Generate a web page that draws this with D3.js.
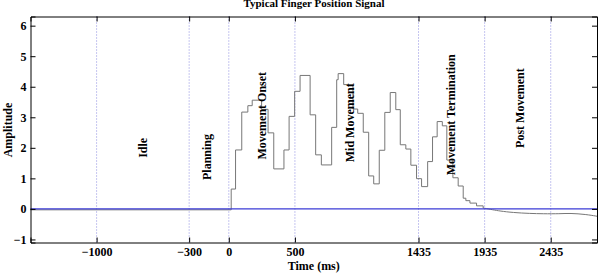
<!DOCTYPE html>
<html>
<head>
<meta charset="utf-8">
<script src="https://cdn.jsdelivr.net/npm/d3@7.9.0/dist/d3.min.js"></script>
<style>
  body { margin: 0; background: #fff; }
  svg text { font-family: "Liberation Serif", "Times New Roman", serif; font-weight: bold; fill: #000; }
</style>
</head>
<body>
<div id="chart"></div>
<script>
const xTicks = [-1000, -300, 0, 500, 1435, 1935, 2435];
const yTicks = [-1, 0, 1, 2, 3, 4, 5, 6];

const phaseNames = ['Idle', 'Planning', 'Movement Onset', 'Mid Movement', 'Movement Termination', 'Post Movement'];
const phaseTimes = [-654, -169, 248, 918, 1680, 2202];
const phaseLevels = [2.0, 1.7, 3.05, 2.82, 3.08, 3.3];

// finger signal, sampled steps (ms, amplitude)
const stepTimes = [-1500, 18, 51, 98, 144, 177, 248, 297, 340, 417, 456, 498, 539, 615, 657, 700,
  778, 816, 827, 869, 939, 975, 1017, 1058, 1096, 1138, 1180, 1221, 1263, 1297, 1339, 1377,
  1420, 1458, 1504, 1541, 1576, 1615, 1649, 1695, 1735, 1773, 1793, 1824, 1874, 1924];
const stepValues = [-0.03, 0.65, 1.93, 3.17, 3.38, 3.56, 3.26, 2.49, 1.31, 1.93, 3.03, 3.85, 4.37, 3.08, 1.77, 1.44,
  2.67, 4.23, 4.43, 4.07, 3.27, 3.13, 2.51, 1.08, 0.82, 1.92, 3.16, 3.81, 3.25, 2.10, 1.96, 1.43,
  0.99, 0.73, 1.55, 2.36, 2.86, 2.72, 1.60, 1.02, 0.75, 0.35, 0.27, 0.19, 0.10, 0.03];
// slow drift after movement
const tailTimes = [1924, 1998, 2051, 2149, 2278, 2377, 2505, 2581, 2702, 2785];
const tailValues = [0.03, -0.03, -0.07, -0.12, -0.15, -0.16, -0.16, -0.14, -0.18, -0.24];

const width = 602;
const height = 273;
const margin = { top: 16.5, right: 5, bottom: 30.5, left: 30.5 };

const svg = d3.select('#chart')
  .append('svg')
  .attr('width', width)
  .attr('height', height);

const x = d3.scaleLinear()
  .domain([-1500, 2785])
  .range([margin.left, width - margin.right]);

const y = d3.scaleLinear()
  .domain([-1.1, 6.3])
  .range([height - margin.bottom, margin.top]);

// dotted phase boundaries
svg.append('g')
  .selectAll('line')
  .data(xTicks)
  .join('line')
  .attr('x1', d => x(d))
  .attr('x2', d => x(d))
  .attr('y1', margin.top)
  .attr('y2', height - margin.bottom)
  .attr('stroke', '#8c8ce0')
  .attr('stroke-width', 1)
  .attr('stroke-dasharray', '1,2');

const stepData = stepTimes.map((t, i) => [t, stepValues[i]]);
const tailData = tailTimes.map((t, i) => [t, tailValues[i]]);

svg.append('path')
  .datum(stepData)
  .attr('fill', 'none')
  .attr('stroke', '#777')
  .attr('stroke-width', 1)
  .attr('d', d3.line().x(d => x(d[0])).y(d => y(d[1])).curve(d3.curveStepAfter));

svg.append('path')
  .datum(tailData)
  .attr('fill', 'none')
  .attr('stroke', '#777')
  .attr('stroke-width', 1)
  .attr('d', d3.line().x(d => x(d[0])).y(d => y(d[1])).curve(d3.curveBasis));

// zero reference
svg.append('line')
  .attr('x1', x(-1500))
  .attr('x2', x(2785))
  .attr('y1', y(0))
  .attr('y2', y(0))
  .attr('stroke', '#3b3bd6')
  .attr('stroke-width', 1.3);

// axes, matlab style box with inward ticks
const tickLen = 5;
const fmt = d => d < 0 ? '\u2212' + Math.abs(d) : String(d);

const xAxis = svg.append('g')
  .attr('transform', `translate(0,${height - margin.bottom})`)
  .call(d3.axisBottom(x).tickValues(xTicks).tickSize(-tickLen).tickPadding(5).tickFormat(fmt));
xAxis.selectAll('text').attr('font-size', 12);

svg.append('g')
  .attr('transform', `translate(0,${margin.top})`)
  .call(d3.axisTop(x).tickValues(xTicks).tickSize(-tickLen).tickFormat(''));

const yAxis = svg.append('g')
  .attr('transform', `translate(${margin.left},0)`)
  .call(d3.axisLeft(y).tickValues(yTicks).tickSize(-tickLen).tickPadding(4).tickFormat(fmt));
yAxis.selectAll('text').attr('font-size', 12);

svg.append('g')
  .attr('transform', `translate(${width - margin.right},0)`)
  .call(d3.axisRight(y).tickValues(yTicks).tickSize(-tickLen).tickFormat(''));

svg.selectAll('.domain').attr('stroke', '#000').attr('stroke-width', 1);
svg.selectAll('.tick line').attr('stroke', '#000');

// phase labels
svg.append('g')
  .selectAll('text')
  .data(phaseNames)
  .join('text')
  .attr('transform', (d, i) => `translate(${x(phaseTimes[i])},${y(phaseLevels[i])}) rotate(-90)`)
  .attr('text-anchor', 'middle')
  .attr('dy', '0.35em')
  .attr('font-size', 12)
  .text(d => d);

svg.append('text')
  .attr('x', 314)
  .attr('y', 7)
  .attr('text-anchor', 'middle')
  .attr('font-size', 11)
  .text('Typical Finger Position Signal');

svg.append('text')
  .attr('x', (margin.left + width - margin.right) / 2)
  .attr('y', 270)
  .attr('text-anchor', 'middle')
  .attr('font-size', 12)
  .text('Time (ms)');

svg.append('text')
  .attr('transform', `translate(12,130) rotate(-90)`)
  .attr('text-anchor', 'middle')
  .attr('font-size', 12)
  .text('Amplitude');
</script>
</body>
</html>
